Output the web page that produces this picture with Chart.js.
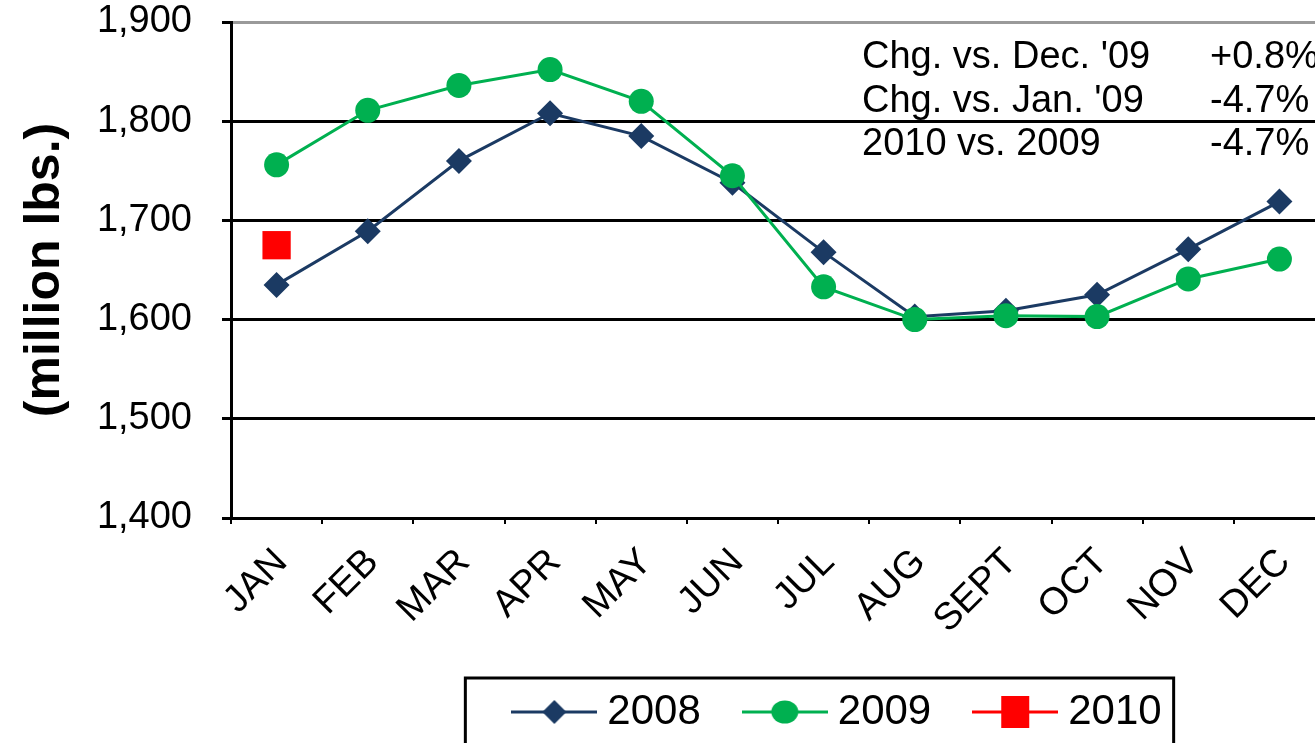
<!DOCTYPE html>
<html>
<head>
<meta charset="utf-8">
<title>Monthly stocks</title>
<script src="https://cdn.jsdelivr.net/npm/chart.js@4.4.1/dist/chart.umd.min.js"></script>
<style>
  html, body { margin: 0; padding: 0; background: #fff; overflow: hidden; }
  #wrap { width: 1345px; height: 743px; position: relative; }
</style>
</head>
<body>
<div id="wrap"><canvas id="stocksChart"></canvas></div>
<script>
const months = ['JAN', 'FEB', 'MAR', 'APR', 'MAY', 'JUN', 'JUL', 'AUG', 'SEPT', 'OCT', 'NOV', 'DEC'];
const values2008 = [1635, 1689, 1760, 1808, 1785, 1738, 1668, 1603, 1609, 1625, 1671, 1719];
const values2009 = [1756, 1811, 1836, 1852, 1820, 1745, 1633, 1600, 1604, 1603, 1641, 1661];
const values2010 = [1675, null, null, null, null, null, null, null, null, null, null, null];
const yTicks = [1400, 1500, 1600, 1700, 1800, 1900];
const noteLabels = ["Chg. vs. Dec. '09", "Chg. vs. Jan. '09", '2010 vs. 2009'];
const noteValues = ['+0.8%', '-4.7%', '-4.7%'];

const FONT = '"Liberation Sans", Arial, sans-serif';
const NAVY = '#1B3A63';
const GREEN = '#00B050';
const RED = '#FF0000';
const LEGEND_DX = 64;

// small line+marker samples for the legend
function legendIcon(color, shape, size) {
    const c = document.createElement('canvas');
    c.width = 86;
    c.height = 44;
    const g = c.getContext('2d');
    g.strokeStyle = color;
    g.lineWidth = 3;
    g.beginPath();
    g.moveTo(0, 22);
    g.lineTo(86, 22);
    g.stroke();
    g.fillStyle = color;
    g.beginPath();
    if (shape === 'diamond') {
        g.moveTo(43, 22 - size);
        g.lineTo(43 + size, 22);
        g.lineTo(43, 22 + size);
        g.lineTo(43 - size, 22);
        g.closePath();
    } else if (shape === 'circle') {
        g.ellipse(43, 22, size + 1, size - 1, 0, 0, Math.PI * 2);
    } else {
        g.rect(43 - size, 22 - size - 2, size * 2, size * 2 + 4);
    }
    g.fill();
    return c;
}

const legendIcons = [
    legendIcon(NAVY, 'diamond', 12),
    legendIcon(GREEN, 'circle', 12.5),
    legendIcon(RED, 'square', 14)
];

const legendShift = {
    id: 'legendShift',
    afterLayout(chart) {
        chart.legend.left += LEGEND_DX;
        chart.legend.right += LEGEND_DX;
    },
    afterDraw(chart) {
        const { ctx, chartArea } = chart;
        ctx.save();

        // legend frame
        const boxes = chart.legend.legendHitBoxes;
        if (boxes && boxes.length) {
            const first = boxes[0];
            const last = boxes[boxes.length - 1];
            const cy = first.top + first.height / 2;
            const x0 = first.left - 57;
            ctx.strokeStyle = '#000';
            ctx.lineWidth = 3;
            ctx.strokeRect(x0, cy - 34, last.left + last.width + 12 - x0, 120);
        }

        // change notes, top right
        ctx.font = '38px ' + FONT;
        ctx.fillStyle = '#000';
        ctx.textBaseline = 'middle';
        noteLabels.forEach((t, i) => {
            const y = chartArea.top + 36 + i * 43.5;
            ctx.fillText(t, chartArea.left + 631, y);
            ctx.fillText(noteValues[i], chartArea.left + 979, y);
        });
        ctx.restore();
    }
};

new Chart(document.getElementById('stocksChart'), {
    type: 'line',
    data: {
        labels: months,
        datasets: [
            {
                label: '2008',
                data: values2008,
                borderColor: NAVY,
                backgroundColor: NAVY,
                borderWidth: 3,
                pointStyle: 'rectRot',
                pointRadius: 13,
                pointBorderWidth: 0,
                order: 2
            },
            {
                label: '2009',
                data: values2009,
                borderColor: GREEN,
                backgroundColor: GREEN,
                borderWidth: 3,
                pointStyle: 'circle',
                pointRadius: 12.5,
                pointBorderWidth: 0,
                order: 1
            },
            {
                label: '2010',
                data: values2010,
                borderColor: RED,
                backgroundColor: RED,
                borderWidth: 3,
                showLine: false,
                pointStyle: 'rect',
                pointRadius: 20,
                pointBorderWidth: 0,
                order: 0
            }
        ]
    },
    options: {
        responsive: true,
        maintainAspectRatio: false,
        animation: false,
        layout: { padding: { top: 22, right: 12, bottom: 0, left: 0 } },
        plugins: {
            tooltip: { enabled: false },
            legend: {
                position: 'bottom',
                fullSize: false,
                labels: {
                    usePointStyle: true,
                    pointStyleWidth: 64,
                    padding: 52,
                    color: '#000',
                    font: { family: FONT, size: 42 },
                    generateLabels(chart) {
                        const items = Chart.defaults.plugins.legend.labels.generateLabels(chart);
                        items.sort((a, b) => a.datasetIndex - b.datasetIndex);
                        items.forEach(it => {
                            it.pointStyle = legendIcons[it.datasetIndex];
                            it.fontColor = '#000';
                        });
                        return items;
                    }
                }
            }
        },
        scales: {
            x: {
                offset: true,
                grid: {
                    display: true,
                    drawOnChartArea: false,
                    offset: true,
                    tickLength: 6,
                    color: '#000',
                    lineWidth: 2
                },
                border: { display: true, color: '#000', width: 3 },
                ticks: {
                    color: '#000',
                    font: { family: FONT, size: 38 },
                    maxRotation: 45,
                    minRotation: 45,
                    autoSkip: false,
                    padding: 16,
                    labelOffset: 5
                },
                afterFit(scale) { scale.height = 121; }
            },
            y: {
                min: yTicks[0],
                max: yTicks[yTicks.length - 1],
                afterBuildTicks(scale) { scale.ticks = yTicks.map(v => ({ value: v })); },
                grid: {
                    color: ctx => (ctx.tick && ctx.tick.value === 1900 ? '#9A9A9A' : '#000'),
                    tickColor: '#000',
                    lineWidth: 3,
                    tickLength: 9
                },
                border: { display: true, color: '#000', width: 3 },
                ticks: {
                    color: '#000',
                    padding: 30,
                    font: { family: FONT, size: 38 },
                    callback: v => v.toLocaleString('en-US')
                },
                title: {
                    display: true,
                    text: '(million lbs.)',
                    color: '#000',
                    font: { family: FONT, size: 50, weight: 'bold' },
                    padding: { top: 15, bottom: 0 }
                },
                afterFit(scale) {
                    scale.width = 231;
                    scale.paddingTop = 0;
                    scale.paddingBottom = 0;
                }
            }
        }
    },
    plugins: [legendShift]
});
</script>
</body>
</html>
